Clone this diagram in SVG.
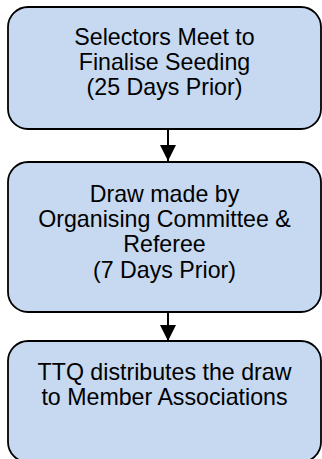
<svg xmlns="http://www.w3.org/2000/svg" width="322" height="459" viewBox="0 0 322 459">
<style>
.box{fill:#C6D9F1;stroke:#000;stroke-width:1.8}
.t{font-family:"Liberation Sans",Arial,sans-serif;font-size:23.2px;fill:#000;text-anchor:middle}
.c{stroke:#000;stroke-width:2;fill:none}
</style>
<defs>
<marker id="ah" markerUnits="userSpaceOnUse" markerWidth="18" markerHeight="18" refX="16" refY="8" orient="auto">
<path d="M0,0 L16,8 L0,16 Z" fill="#000"/>
</marker>
</defs>
<rect width="322" height="459" fill="#fff"/>
<g id="connectors">
<line class="c" x1="168" y1="129" x2="168" y2="161" marker-end="url(#ah)"/>
<line class="c" x1="168" y1="312" x2="168" y2="341" marker-end="url(#ah)"/>
</g>
<g id="node1">
<rect class="box" x="8" y="7" width="313" height="122" rx="20" ry="20"/>
<text class="t" x="164.5" y="45">Selectors Meet to</text>
<text class="t" x="164.5" y="70">Finalise Seeding</text>
<text class="t" x="164.5" y="95">(25 Days Prior)</text>
</g>
<g id="node2">
<rect class="box" x="8" y="162" width="313" height="150" rx="20" ry="20"/>
<text class="t" x="164.5" y="202">Draw made by</text>
<text class="t" x="164.5" y="227">Organising Committee &amp;</text>
<text class="t" x="164.5" y="252">Referee</text>
<text class="t" x="164.5" y="278">(7 Days Prior)</text>
</g>
<g id="node3">
<rect class="box" x="8" y="341" width="313" height="121" rx="20" ry="20"/>
<text class="t" x="164.5" y="380">TTQ distributes the draw</text>
<text class="t" x="164.5" y="405">to Member Associations</text>
</g>
</svg>
